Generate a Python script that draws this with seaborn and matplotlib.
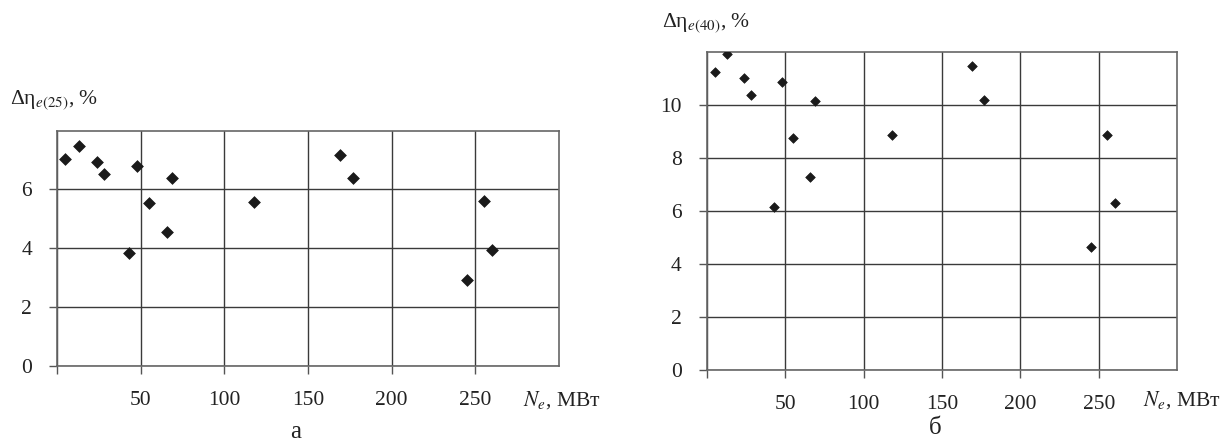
import pandas as pd
import matplotlib
matplotlib.use("Agg")
import matplotlib.pyplot as plt
import seaborn as sns

# power of the unit, MW (same units on both panels)
power = [5, 13, 24, 28, 43, 48, 55, 66, 69, 118, 169, 177, 245, 255, 260]
# efficiency gain at 25 and 40 % load
gain_25 = [7.04, 7.48, 6.94, 6.52, 3.85, 6.80, 5.53, 4.56, 6.38, 5.58, 7.18, 6.38, 2.92, 5.60, 3.95]
gain_40 = [11.24, 11.9, 11.02, 10.38, 6.13, 10.84, 8.76, 7.29, 10.14, 8.87, 11.45, 10.18, 4.64, 8.87, 6.28]

x_ticks = [0, 50, 100, 150, 200, 250]
x_labels = ["", "50", "100", "150", "200", "250"]

df = pd.DataFrame({"N": power, "g25": gain_25, "g40": gain_40})

sns.set_theme(style="white")
plt.rcParams["font.family"] = ["Liberation Serif", "DejaVu Serif"]
plt.rcParams["mathtext.fontset"] = "stix"

W, H = 1229, 442
fig, (ax1, ax2) = plt.subplots(1, 2, figsize=(W / 100, H / 100), dpi=100)

# axes boxes measured in pixels: left, top, right, bottom
ax1.set_position([57 / W, 1 - 365.7 / H, (559 - 57) / W, (365.7 - 130.7) / H])
ax2.set_position([706.7 / W, 1 - 370 / H, (1177.3 - 706.7) / W, (370 - 51.7) / H])

panels = [
    (ax1, "g25", 8, [0, 2, 4, 6], 36),
    (ax2, "g40", 12, [0, 2, 4, 6, 8, 10], 24),
]
for ax, col, ymax, yt, msize in panels:
    sns.scatterplot(data=df, x="N", y=col, ax=ax, marker="D", s=msize,
                    color="#1a1a1a", edgecolor="#1a1a1a", linewidth=0.5, zorder=3)
    ax.set_xlim(0, 300)
    ax.set_ylim(0, ymax)
    ax.set_xticks(x_ticks)
    ax.set_xticklabels(x_labels)
    ax.set_yticks(yt)
    ax.set_xlabel("")
    ax.set_ylabel("")
    ax.grid(True, color="#3a3a3a", linewidth=1.0)
    ax.tick_params(axis="both", which="major", direction="out", length=6, width=1,
                   color="#555555", labelsize=15.5, pad=12, labelcolor="#222222",
                   bottom=True, left=True)
    for sp in ax.spines.values():
        sp.set_visible(True)
        sp.set_color("#666666")
        sp.set_linewidth(1.2)

# axis titles
fig.text(10 / W, 1 - 100 / H, "Δη$_{e(25)}$, %", fontsize=15.5, va="center", ha="left", color="#222222")
fig.text(661.7 / W, 1 - 23 / H, "Δη$_{e(40)}$, %", fontsize=15.5, va="center", ha="left", color="#222222")
fig.text(523 / W, 1 - 400 / H, r"$N_e$, МВт", fontsize=15.5, va="center", ha="left", color="#222222")
fig.text(1143 / W, 1 - 400 / H, r"$N_e$, МВт", fontsize=15.5, va="center", ha="left", color="#222222")

# panel captions
fig.text(296 / W, 1 - 432 / H, "а", fontsize=18, va="center", ha="center", color="#222222")
fig.text(935 / W, 1 - 428 / H, "б", fontsize=18, va="center", ha="center", color="#222222")

fig.savefig("out.png", dpi=100)
